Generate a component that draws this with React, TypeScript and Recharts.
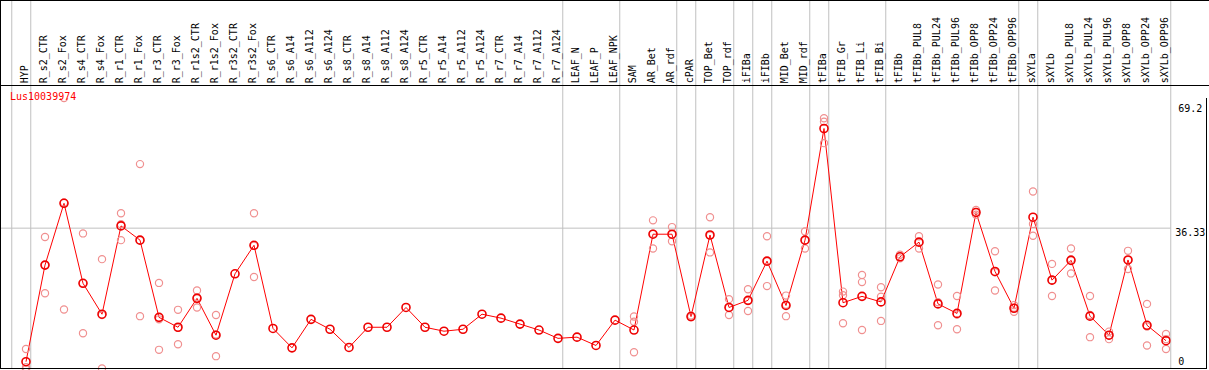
import React from "react";
import { ComposedChart, Line, Scatter, XAxis, YAxis, ReferenceLine } from "recharts";

const categories = [
  "HYP", "R_s2_CTR", "R_s2_Fox", "R_s4_CTR", "R_s4_Fox", "R_r1_CTR", "R_r1_Fox", "R_r3_CTR", "R_r3_Fox",
  "R_r1s2_CTR", "R_r1s2_Fox", "R_r3s2_CTR", "R_r3s2_Fox", "R_s6_CTR", "R_s6_A14", "R_s6_A112", "R_s6_A124",
  "R_s8_CTR", "R_s8_A14", "R_s8_A112", "R_s8_A124", "R_r5_CTR", "R_r5_A14", "R_r5_A112", "R_r5_A124",
  "R_r7_CTR", "R_r7_A14", "R_r7_A112", "R_r7_A124", "LEAF_N", "LEAF_P", "LEAF_NPK", "SAM", "AR_Bet", "AR_rdf",
  "cPAR", "TOP_Bet", "TOP_rdf", "iFIBa", "iFIBb", "MID_Bet", "MID_rdf", "tFIBa", "tFIB_Gr", "tFIB_Li", "tFIB_Bi",
  "tFIBb", "tFIBb_PUL8", "tFIBb_PUL24", "tFIBb_PUL96", "tFIBb_OPP8", "tFIBb_OPP24", "tFIBb_OPP96",
  "sXYLa", "sXYLb", "sXYLb_PUL8", "sXYLb_PUL24", "sXYLb_PUL96", "sXYLb_OPP8", "sXYLb_OPP24", "sXYLb_OPP96",
];

const meanValues = [
  2.6, 27.0, 42.6, 22.4, 14.6, 36.9, 33.3, 13.8, 11.3, 18.6, 9.3, 24.8, 32.0,
  11.0, 6.1, 13.3, 10.8, 6.2, 11.3, 11.3, 16.3, 11.3, 10.3, 10.8, 14.6, 13.6, 12.1, 10.6, 8.5,
  8.8, 6.7, 13.1, 10.6, 34.8, 34.8, 14.0, 34.6, 16.3, 18.1, 28.0, 16.8, 33.3, 61.5,
  17.5, 19.1, 17.7, 29.1, 32.8, 17.2, 14.8, 40.3, 25.4, 16.1,
  39.1, 23.2, 28.2, 14.1, 9.3, 28.3, 11.8, 7.9,
];

const replicateValues: number[][] = [
  [5.8, 1.2, 0.7], [34.1, 19.9, 27.0], [69.2, 15.8, 42.8], [35.0, 9.8, 22.4], [28.5, 0.9, 14.4],
  [40.1, 33.3, 37.3], [52.5, 14.1, 33.3], [22.5, 5.6, 13.3], [15.7, 7.0, 11.2], [20.6, 16.3, 18.9],
  [14.4, 4.0, 9.5], [], [40.1, 24.0, 31.9],
  [], [], [], [], [], [], [], [], [], [], [], [], [], [], [], [],
  [], [], [], [14.0, 12.7, 5.0], [38.3, 31.2, 34.9], [36.6, 33.0, 34.8], [14.3, 13.8],
  [39.1, 30.2, 34.5], [18.4, 14.4, 16.2], [20.9, 15.4, 18.0], [34.3, 21.7, 28.0], [19.3, 14.1, 17.0],
  [35.5, 31.2, 33.3], [64.1, 63.2, 57.8], [20.3, 19.4, 12.3], [24.5, 22.7, 10.6], [21.4, 19.0, 12.9],
  [29.6, 28.7], [34.3, 31.2, 32.8], [22.1, 11.8, 17.6], [19.2, 10.8, 14.5], [40.9, 39.7, 40.4],
  [30.5, 20.6, 25.2], [16.9, 15.2, 16.2], [45.6, 37.4, 34.4], [27.3, 19.2, 23.2], [31.2, 24.9, 28.5],
  [19.2, 8.8, 14.4], [10.2, 8.3, 9.3], [30.6, 26.0, 28.3], [17.2, 6.7, 11.5], [9.6, 5.8, 8.3],
];

const groupEnds = [-1, 0, 28, 31, 34, 35, 37, 38, 39, 41, 42, 45, 52, 53, 60];
const yTicks = [0, 36.33, 69.2];
const yMax = 69.2;
const title = "Lus10039974";

const FONT = "'DejaVu Sans Mono', monospace";

const meanData = categories.map((c, i) => ({ idx: i, name: c, mean: meanValues[i] }));
const repData = replicateValues.flatMap((reps, i) => reps.map((r) => ({ idx: i, rep: r })));
const indices = categories.map((_, i) => i);

const XTick = (props: any) => {
  const { x, y, payload } = props;
  const label = categories[payload.value];
  return (
    <text
      transform={`translate(${x + 2.3},${y - 14.7}) rotate(-90)`}
      textAnchor="start"
      fontSize={10}
      fontFamily={FONT}
      fill="#000"
    >
      {label}
    </text>
  );
};

const YTick = (props: any) => {
  const { x, y, payload } = props;
  const v = payload.value;
  let dy = 7.5;
  if (v === yMax) dy = 13.7;
  if (v === 0) dy = -7;
  const long = String(v).length > 4;
  return (
    <text
      x={long ? x + 34.5 : x + 7.5}
      y={y + dy}
      textAnchor={long ? "end" : "start"}
      fontSize={10}
      fontFamily={FONT}
      fill="#000"
    >
      {String(v)}
    </text>
  );
};

const MeanDot = (props: any) => {
  const { cx, cy } = props;
  if (cx == null || cy == null) return null;
  return <circle cx={cx} cy={cy} r={4} fill="none" stroke="#ee0000" strokeWidth={1.6} />;
};

const RepDot = (props: any) => {
  const { cx, cy } = props;
  if (cx == null || cy == null) return null;
  return <circle cx={cx} cy={cy} r={3.6} fill="none" stroke="#f09090" strokeWidth={1.2} />;
};

const VLine = (p: any) => {
  const bottom = Math.max(p.y1, p.y2) - 3.5;
  return <line x1={p.x1} x2={p.x2} y1={0} y2={bottom} stroke="#c0c0c0" strokeWidth={1} />;
};

export default function App() {
  return (
    <div style={{ position: "absolute", left: 0, top: 0, width: 1209, height: 370, overflow: "hidden", background: "#fff" }}>
      <ComposedChart
        width={1209}
        height={372}
        data={meanData}
        margin={{ top: 0, right: 0, bottom: 0, left: 0 }}
      >
        <XAxis
          dataKey="idx"
          type="number"
          orientation="top"
          height={98}
          domain={[-26 / 19, 60.25]}
          allowDataOverflow
          ticks={indices}
          interval={0}
          tick={<XTick />}
          tickLine={false}
          axisLine={false}
          tickSize={0}
          tickMargin={0}
        />
        <YAxis
          type="number"
          orientation="right"
          width={38.25}
          domain={[0, yMax]}
          allowDataOverflow
          ticks={yTicks}
          interval={0}
          tick={<YTick />}
          tickLine={false}
          axisLine={false}
          tickSize={0}
          tickMargin={0}
        />
        {groupEnds.map((g) => (
          <ReferenceLine key={g} x={g + 0.25} ifOverflow="visible" shape={<VLine />} />
        ))}
        <ReferenceLine y={36.33} stroke="#c0c0c0" strokeWidth={1} ifOverflow="visible" />
        <Scatter data={repData} dataKey="rep" shape={<RepDot />} isAnimationActive={false} />
        <Line
          dataKey="mean"
          stroke="#ff0000"
          strokeWidth={1}
          dot={<MeanDot />}
          activeDot={false}
          isAnimationActive={false}
        />
      </ComposedChart>
      <svg width={1209} height={370} style={{ position: "absolute", left: 0, top: 0, pointerEvents: "none" }}>
        <line x1={0} x2={1209} y1={0.5} y2={0.5} stroke="#000" strokeWidth={1} />
        <line x1={0.5} x2={0.5} y1={0} y2={369} stroke="#000" strokeWidth={1} />
        <line x1={0} x2={1209} y1={85.5} y2={85.5} stroke="#000" strokeWidth={1} />
        <line x1={0} x2={1207} y1={368.5} y2={368.5} stroke="#000" strokeWidth={1} />
        <line x1={1206.5} x2={1206.5} y1={98} y2={369} stroke="#000" strokeWidth={1} />
        <text x={10} y={100.3} fontSize={10} fontFamily={FONT} fill="#ff0000">{title}</text>
      </svg>
    </div>
  );
}
